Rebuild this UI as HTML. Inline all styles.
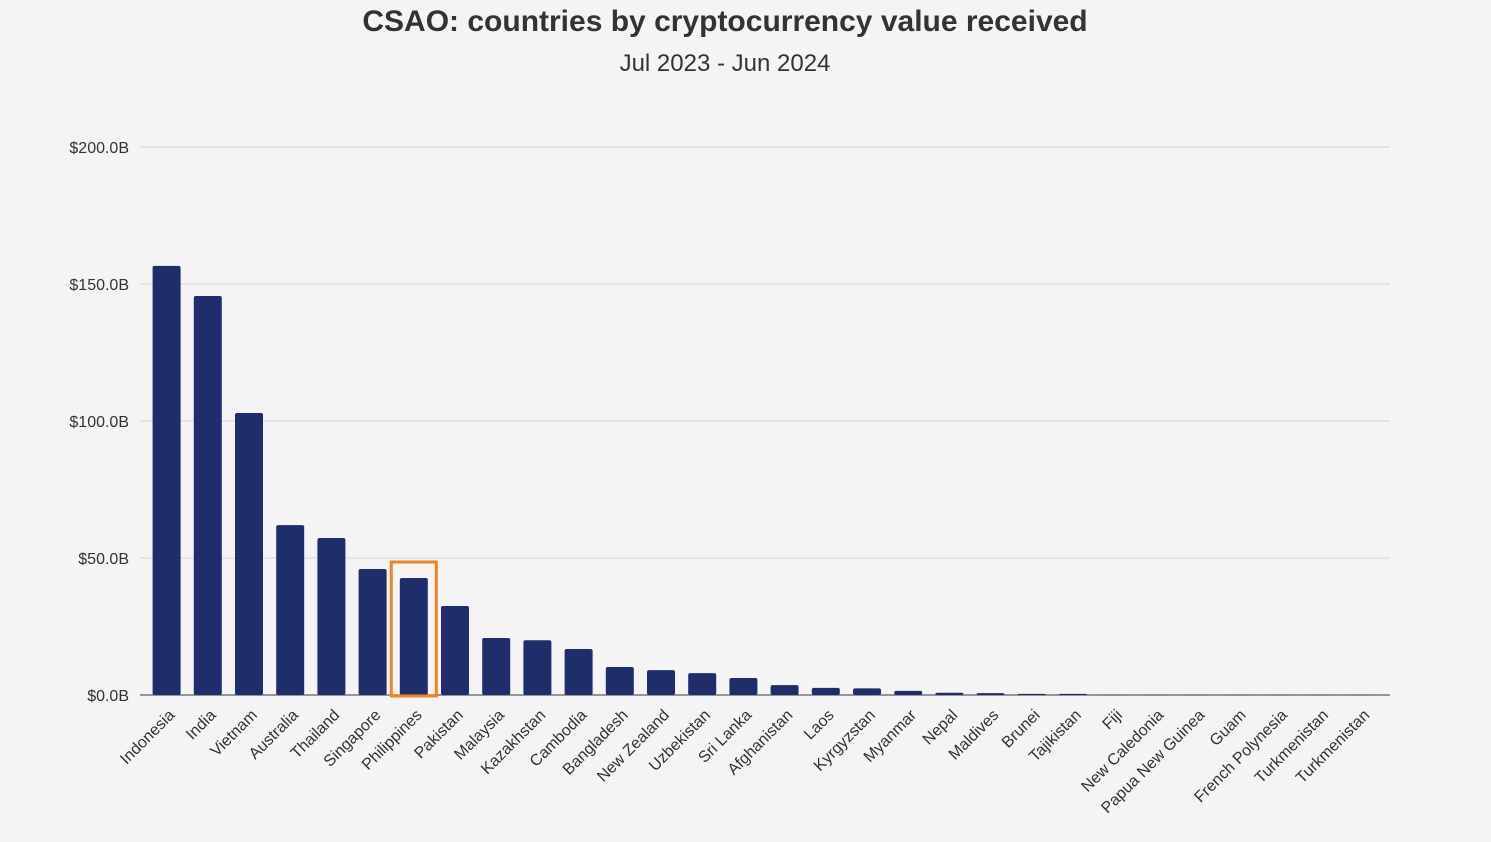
<!DOCTYPE html>
<html><head><meta charset="utf-8"><style>
html,body{margin:0;padding:0;background:#f4f4f4;}
svg{display:block;font-family:"Liberation Sans",sans-serif;}
</style></head><body>
<svg id="chart" width="1491" height="842">
<rect width="1491" height="842" fill="#f4f4f4"/>
<text x="725" y="31" text-anchor="middle" font-size="30" font-weight="bold" fill="#333">CSAO: countries by cryptocurrency value received</text>
<text x="725" y="71" text-anchor="middle" font-size="24" fill="#333">Jul 2023 - Jun 2024</text>
<g id="grid"></g><g id="bars"></g><g id="labels"></g>
</svg>
<script>
const categories=["Indonesia","India","Vietnam","Australia","Thailand","Singapore","Philippines","Pakistan","Malaysia","Kazakhstan","Cambodia","Bangladesh","New Zealand","Uzbekistan","Sri Lanka","Afghanistan","Laos","Kyrgyzstan","Myanmar","Nepal","Maldives","Brunei","Tajikistan","Fiji","New Caledonia","Papua New Guinea","Guam","French Polynesia","Turkmenistan","Turkmenistan"];
const values=[156.6,145.6,102.9,62,57.3,46,42.7,32.5,20.8,20,16.8,10.2,9.1,8,6.2,3.6,2.6,2.4,1.5,0.8,0.7,0.4,0.4,0.05,0.05,0.05,0.05,0.05,0.05,0.05];
const ticks=[0,50,100,150,200];
const tickLabels=["$0.0B","$50.0B","$100.0B","$150.0B","$200.0B"];
const highlightIndex=6;
const NS="http://www.w3.org/2000/svg";
const y0=695,y1=147,xL=140,xR=1390,bandStart=146,band=41.2,bw=28;
const y=v=>y0-(v/200)*(y0-y1);
const xc=i=>bandStart+band/2+i*band;
function mk(t,a,p){const e=document.createElementNS(NS,t);for(const k in a)e.setAttribute(k,a[k]);p.appendChild(e);return e;}
const grid=document.getElementById('grid'),bars=document.getElementById('bars'),labels=document.getElementById('labels');
ticks.forEach((t,i)=>{
 const l=mk('line',{x1:xL,x2:xR,y1:y(t),y2:y(t),stroke:t===0?'#777':'#dcdcdc','stroke-width':t===0?1.5:1.2},grid);
 
 
 const tx=mk('text',{x:129,y:y(t)+6,'text-anchor':'end','font-size':16,fill:'#333'},grid);
 tx.textContent=tickLabels[i];
 
 
});
categories.forEach((c,i)=>{
 const r=mk('rect',{x:xc(i)-bw/2,y:y(values[i]),width:bw,height:y0-y(values[i]),fill:'#1f2d6b',rx:2},bars);
 
 
 const ax=xc(i)+9, ay=y0+21;
 const tx=mk('text',{x:ax,y:ay,'text-anchor':'end','font-size':16,fill:'#333',transform:`rotate(-45 ${ax} ${ay})`},labels);
 tx.textContent=c;
 
 
});
const h=mk('rect',{x:xc(highlightIndex)-22.5,y:y(values[highlightIndex])-16,width:45,height:y0-y(values[highlightIndex])+17,fill:'none',stroke:'#f58220','stroke-width':3},bars);


</script>
</body></html>
